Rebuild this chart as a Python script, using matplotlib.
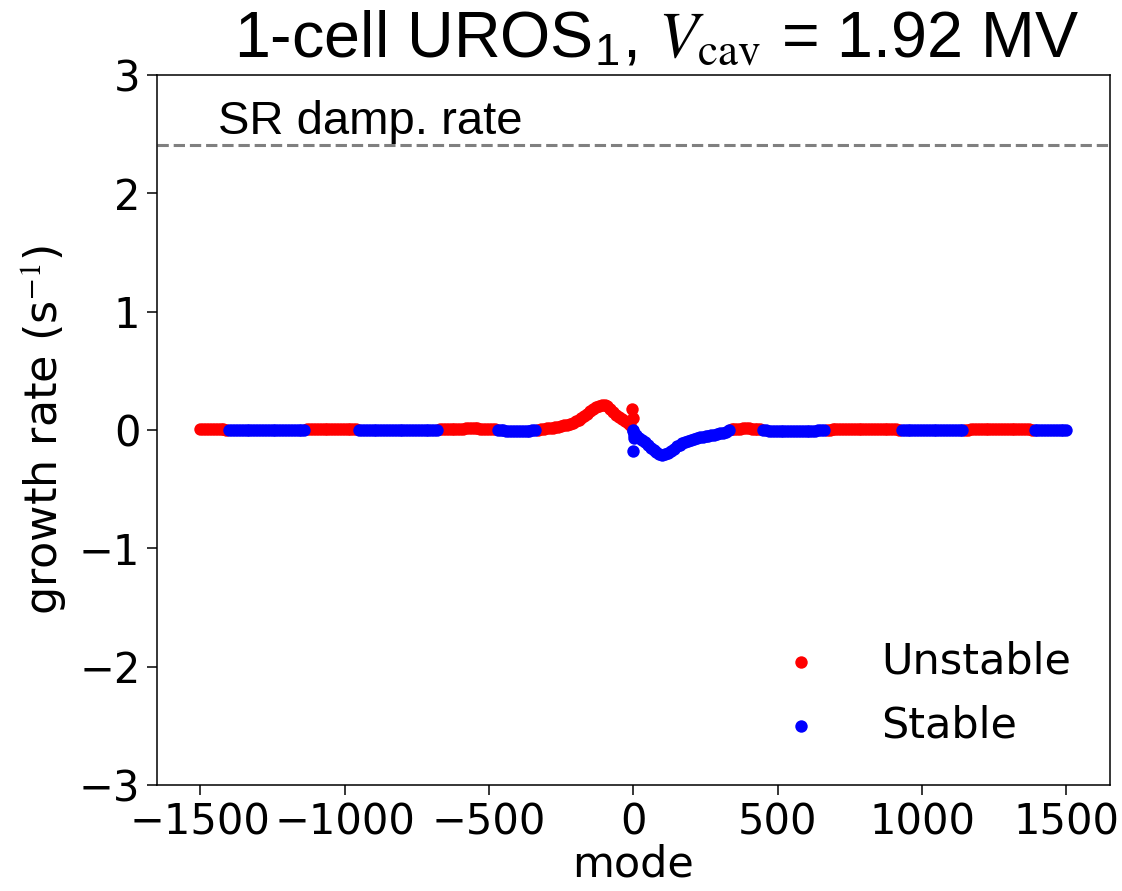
import numpy as np
import matplotlib
matplotlib.use("Agg")
import matplotlib.pyplot as plt

plt.rcParams['font.family'] = ['DejaVu Sans']
plt.rcParams['mathtext.fontset'] = 'custom'
plt.rcParams['mathtext.rm'] = 'STIXGeneral'
plt.rcParams['mathtext.it'] = 'STIXGeneral:italic'
plt.rcParams['mathtext.sf'] = 'Liberation Sans'

# mode index, every 20 modes
modes = np.arange(-1500, 1501, 20)

# growth rate (1/s), one value per mode above
growth = [
    # -1500 .. -1420
    0.004, 0.004, 0.004, 0.004, 0.004,
    # -1400 .. -1140
    -0.003, -0.004, -0.004, -0.004, -0.004, -0.004, -0.004,
    -0.004, -0.004, -0.004, -0.004, -0.004, -0.004, -0.003,
    # -1120 .. -960
    0.005, 0.006, 0.006, 0.006, 0.006, 0.006, 0.006, 0.006, 0.005,
    # -940 .. -680
    -0.004, -0.005, -0.005, -0.005, -0.005, -0.005, -0.005,
    -0.005, -0.005, -0.005, -0.005, -0.005, -0.005, -0.004,
    # -660 .. -480
    0.006, 0.008, 0.01, 0.01, 0.012, 0.012, 0.012, 0.01, 0.008, 0.005,
    # -460 .. -340
    -0.004, -0.007, -0.009, -0.01, -0.009, -0.007, -0.004,
    # -320 .. -20
    0.005, 0.012, 0.02, 0.028, 0.038, 0.05, 0.072, 0.1,
    0.138, 0.175, 0.2, 0.21, 0.18, 0.125, 0.09, 0.055,
    # 0
    -0.01,
    # 20 .. 320
    -0.065, -0.105, -0.15, -0.19, -0.21, -0.195, -0.16, -0.125,
    -0.1, -0.082, -0.068, -0.058, -0.05, -0.04, -0.03, -0.02,
    # 340 .. 440
    0.006, 0.01, 0.012, 0.012, 0.008, 0.004,
    # 460 .. 660
    -0.004, -0.007, -0.009, -0.01, -0.01, -0.01, -0.009, -0.008,
    -0.007, -0.005, -0.003,
    # 680 .. 920
    0.003, 0.005, 0.006, 0.006, 0.007, 0.007, 0.007, 0.007,
    0.006, 0.006, 0.005, 0.004, 0.003,
    # 940 .. 1140
    -0.003, -0.004, -0.005, -0.005, -0.005, -0.005, -0.005,
    -0.005, -0.005, -0.004, -0.003,
    # 1160 .. 1380
    0.003, 0.004, 0.004, 0.004, 0.004, 0.004, 0.004, 0.004,
    0.004, 0.004, 0.004, 0.003,
    # 1400 .. 1500
    -0.003, -0.003, -0.003, -0.003, -0.003, -0.003,
]

# the modes halfway between the ones above
left_modes = np.arange(-1490, -329, 20)
left_growth = [
    # -1490 .. -1410
    0.004, 0.004, 0.004, 0.004, 0.002,
    # -1390 .. -1150
    -0.004, -0.004, -0.004, -0.004, -0.004, -0.004, -0.004,
    -0.004, -0.004, -0.004, -0.004, -0.004, -0.004,
    # -1130 .. -970
    0.004, 0.006, 0.006, 0.006, 0.006, 0.006, 0.006, 0.006, 0.006,
    # -950 .. -690
    -0.003, -0.005, -0.005, -0.005, -0.005, -0.005, -0.005, -0.005,
    -0.005, -0.005, -0.005, -0.005, -0.005, -0.005,
    # -670 .. -490
    0.004, 0.007, 0.009, 0.01, 0.011, 0.012, 0.012, 0.011, 0.009, 0.006,
    # -470 .. -350
    -0.002, -0.005, -0.008, -0.01, -0.01, -0.008, -0.005,
    # -330
    0.003,
]

mid_modes = np.arange(-310, 311, 20)
mid_growth = [
    0.008, 0.016, 0.024, 0.033, 0.044, 0.06, 0.085, 0.118,
    0.157, 0.19, 0.208, 0.2, 0.155, 0.105, 0.072, 0.04,
    -0.04, -0.085, -0.128, -0.172, -0.203, -0.205, -0.18, -0.14,
    -0.112, -0.09, -0.075, -0.063, -0.054, -0.045, -0.035, -0.025,
]

right_modes = np.arange(330, 1491, 20)
right_growth = [
    # 330 .. 450
    -0.005, 0.008, 0.011, 0.012, 0.01, 0.006, -0.002,
    # 470 .. 650
    -0.006, -0.008, -0.01, -0.01, -0.01, -0.01, -0.009, -0.008,
    -0.006, -0.004,
    # 670 .. 930
    0.002, 0.004, 0.006, 0.006, 0.007, 0.007, 0.007, 0.007, 0.007,
    0.006, 0.006, 0.005, 0.004, -0.002,
    # 950 .. 1150
    -0.004, -0.005, -0.005, -0.005, -0.005, -0.005, -0.005, -0.005,
    -0.005, -0.004, 0.002,
    # 1170 .. 1390
    0.004, 0.004, 0.004, 0.004, 0.004, 0.004, 0.004, 0.004,
    0.004, 0.004, 0.004, -0.002,
    # 1410 .. 1490
    -0.003, -0.003, -0.003, -0.003, -0.003,
]

# a few modes right next to 0
center_modes = [-4, -3, -1, 0, 1, 2]
center_growth = [0.18, 0.1, -0.18, -0.005, -0.04, -0.07]

sr_damp = 2.41

x = np.concatenate([modes, left_modes, mid_modes, right_modes, center_modes])
y = np.concatenate([growth, left_growth, mid_growth, right_growth, center_growth])
unst = y > 0

fig = plt.figure(figsize=(11.22, 8.91), dpi=100)
ax = fig.add_axes([0.140, 0.119, 0.849, 0.797])

ax.scatter(x[unst], y[unst], s=80, c='red', lw=0, label='Unstable')
ax.scatter(x[~unst], y[~unst], s=80, c='blue', lw=0, label='Stable')
ax.axhline(sr_damp, color='gray', ls='--', lw=2.2)
ax.text(-1440, 2.5, 'SR damp. rate', fontsize=34, family='Liberation Sans')

ax.set_ylim(-3, 3)
ax.set_xlim(-1650, 1650)
ax.set_xticks([-1500, -1000, -500, 0, 500, 1000, 1500])
ax.set_yticks([-3, -2, -1, 0, 1, 2, 3])
ax.tick_params(labelsize=30, length=7, width=1.1, pad=5)
for sp in ax.spines.values():
    sp.set_linewidth(1.1)

ax.set_xlabel('mode', fontsize=31, labelpad=0)
ax.set_ylabel('growth rate (s$^{-1}$)', fontsize=32, labelpad=8)
ax.set_title(r'1-cell UROS$_\mathsf{1}$, $V_\mathrm{cav}$ = 1.92 MV',
             fontsize=46.5, family='Liberation Sans', pad=12, x=0.524)

ax.legend(loc='lower right', fontsize=31, frameon=False, handletextpad=0.85)

fig.savefig('out.png')
